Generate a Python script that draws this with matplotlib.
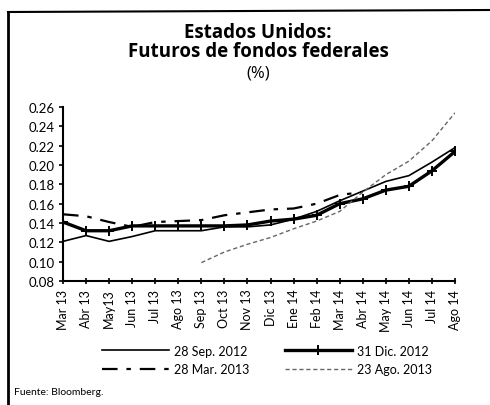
import matplotlib.pyplot as plt
from matplotlib.lines import Line2D

plt.rcParams['font.family'] = ['Lato', 'DejaVu Sans']

# Datos
meses = ['Mar 13', 'Abr 13', 'May13', 'Jun 13', 'Jul 13', 'Ago 13', 'Sep 13', 'Oct 13', 'Nov 13',
         'Dic 13', 'Ene 14', 'Feb 14', 'Mar 14', 'Abr 14', 'May 14', 'Jun 14', 'Jul 14', 'Ago 14']
sep_2012 = [0.121, 0.127, 0.121, 0.126, 0.132, 0.132, 0.132, 0.136, 0.136,
            0.138, 0.144, 0.152, 0.163, 0.173, 0.183, 0.189, 0.203, 0.218]
dic_2012 = [0.141, 0.132, 0.132, 0.137, 0.137, 0.137, 0.137, 0.137, 0.138,
            0.142, 0.144, 0.148, 0.160, 0.165, 0.174, 0.178, 0.194, 0.214]
mar_2013 = [0.149, 0.147, 0.141, 0.136, 0.141, 0.142, 0.143, 0.148, 0.151,
            0.154, 0.155, 0.160, 0.169, 0.172]
ago_2013 = [0.099, 0.110, 0.118, 0.125, 0.134, 0.142, 0.152, 0.172, 0.190,
            0.204, 0.225, 0.254]

x = list(range(len(meses)))

fig = plt.figure(figsize=(4.9, 4.06), dpi=100)
ax = fig.add_axes([63/490, 1 - 282/406, 392/490, 174/406])

l1, = ax.plot(x, sep_2012, '-', color='black', lw=1.2, label='28 Sep. 2012')
l2, = ax.plot(x, dic_2012, '-', color='black', lw=2.4, marker='+', markersize=7, mew=1.4,
              label='31 Dic. 2012')
l3, = ax.plot(x[:len(mar_2013)], mar_2013, color='black', lw=1.6, dashes=(7, 4, 2, 4),
              label='28 Mar. 2013')
l4, = ax.plot(x[6:6 + len(ago_2013)], ago_2013, color='#666666', lw=1.0, dashes=(3, 2),
              label='23 Ago. 2013')

ax.set_xlim(0, len(meses) - 1)
ax.set_ylim(0.08, 0.26)
ax.set_yticks([0.08 + 0.02 * i for i in range(10)])
ax.set_yticklabels([f'{0.08 + 0.02 * i:.2f}' for i in range(10)], fontsize=9.5)
ax.set_xticks(x)
ax.set_xticklabels(meses, rotation=90, fontsize=9)
ax.tick_params(axis='y', direction='out', length=3, width=1.2, pad=3)
ax.tick_params(axis='x', direction='inout', length=5, width=1.2, pad=3)
for s in ['top', 'right']:
    ax.spines[s].set_visible(False)
for s in ['left', 'bottom']:
    ax.spines[s].set_linewidth(1.5)

# Titulo
tfont = ['Open Sans', 'DejaVu Sans']
fig.text(0.527, 1 - 33/406, 'Estados Unidos:', ha='center', va='center',
         fontsize=13.5, fontweight='bold', family=tfont)
fig.text(0.527, 1 - 52/406, 'Futuros de fondos federales', ha='center', va='center',
         fontsize=13.5, fontweight='bold', family=tfont)
fig.text(0.527, 1 - 73/406, '(%)', ha='center', va='center', fontsize=12, family=tfont)

# Leyenda (filas: Sep/Dic 2012, Mar/Ago 2013)
fig.legend([l1, l3, l2, l4], [l1.get_label(), l3.get_label(), l2.get_label(), l4.get_label()],
           loc='center', bbox_to_anchor=(0.545, 1 - 361/406), ncol=2, frameon=False,
           fontsize=9, handlelength=5.4, columnspacing=2.8, labelspacing=0.55,
           handletextpad=0.4)

fig.text(14/490, 1 - 393/406, 'Fuente: Bloomberg.', ha='left', va='center', fontsize=7.5)

# Marco
fig.add_artist(Line2D([8/490, 8/490], [0, 1 - 13/406], color='black', lw=2,
                      transform=fig.transFigure))
fig.add_artist(Line2D([8/490, 1], [1 - 13/406, 1 - 11/406], color='black', lw=1.5,
                      transform=fig.transFigure))

plt.savefig('out.png', dpi=100)
